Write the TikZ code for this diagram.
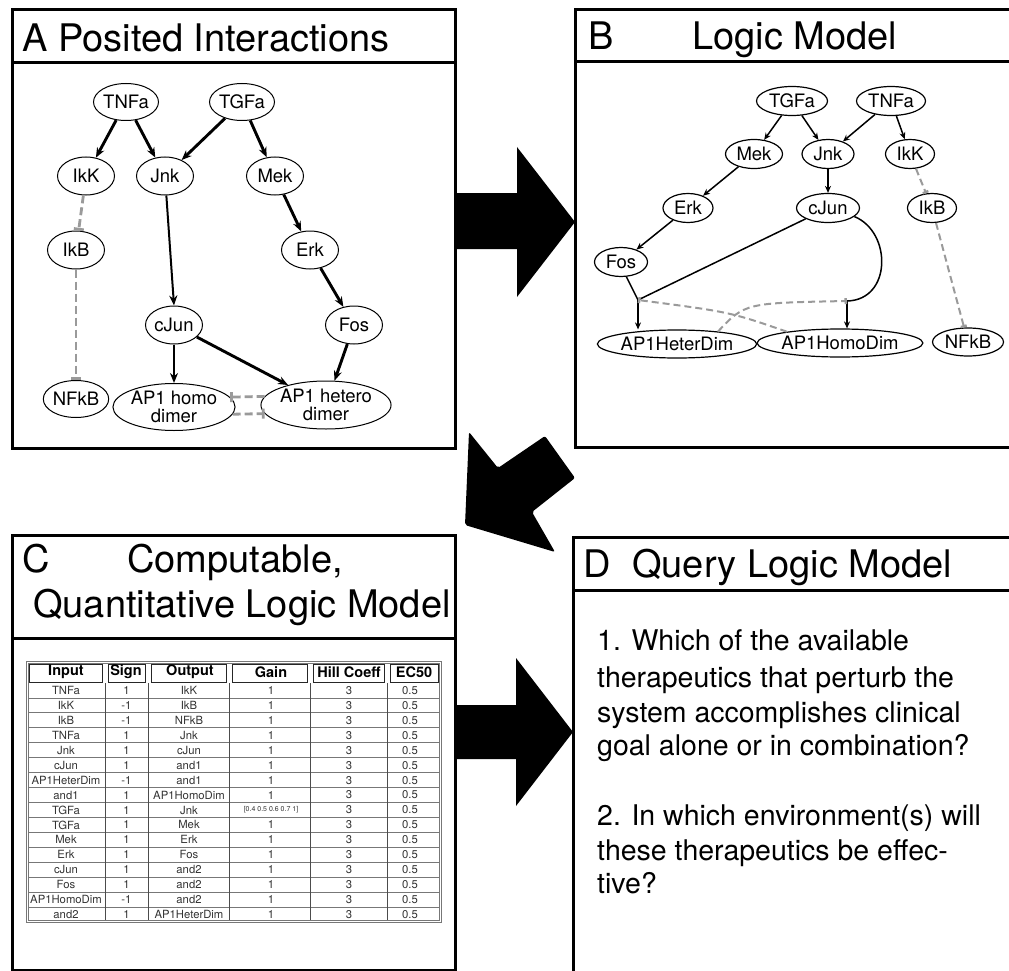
\documentclass[tikz,border=0pt]{standalone}
\usepackage{fontspec}
\setmainfont{TeX Gyre Heros}
\usetikzlibrary{shapes.geometric,arrows.meta,calc}
\definecolor{inhgray}{HTML}{9A9A9A}
\definecolor{cellgray}{HTML}{333333}
\definecolor{gridgray}{HTML}{777777}
\newcommand{\gainvec}{{\fontsize{7}{8}\selectfont[0.4 0.5 0.6 0.7 1]}}
\begin{document}
\begin{tikzpicture}[x=1pt,y=-1pt,
  panel/.style={line width=3pt},
  ttl/.style={anchor=base west, inner sep=0, font=\fontsize{38}{40}\selectfont},
  dtext/.style={anchor=base west, inner sep=0, font=\fontsize{28.5}{34}\selectfont},
  anode/.style={ellipse, draw, line width=1pt, inner sep=0, align=center,
    font=\fontsize{18.5}{18}\selectfont, minimum width=57pt, minimum height=38pt},
  bnode/.style={ellipse, draw, line width=1.2pt, inner sep=0,
    font=\fontsize{18.5}{16}\selectfont, minimum height=29pt},
  act/.style={line width=2.9pt, -{Stealth[length=10pt,width=8pt]}},
  inh/.style={draw=inhgray, line width=2.8pt, dash pattern=on 8pt off 4pt,
    -{Bar[width=10pt,line width=2.8pt]}},
  bact/.style={line width=1.5pt, -{Stealth[length=7pt,width=6pt]}},
  bline/.style={line width=1.5pt},
  binh/.style={draw=inhgray, line width=2pt, dash pattern=on 7pt off 4pt,
    -{Bar[width=6pt,line width=2.5pt]}},
  hdr/.style={inner sep=0, font=\bfseries\fontsize{14.5}{16}\selectfont},
  cell/.style={inner sep=0, text=cellgray, font=\fontsize{11.3}{12}\selectfont}
]
\useasboundingbox (0,0) rectangle (1009,971);
\clip (0,0) rectangle (1009,971);

% ---------- panels ----------
\draw[panel] (12,10) rectangle (455,448);
\draw[panel] (12,63) -- (455,63);
\draw[panel] (575,10) rectangle (1020,447);
\draw[panel] (575,62) -- (1020,62);
\draw[panel] (12,535) rectangle (455,970);
\draw[panel] (12,638) -- (455,638);
\draw[panel] (573,537) rectangle (1020,990);
\draw[panel] (573,590) -- (1020,590);

% ---------- titles ----------
\node[ttl] (tA) at (22,52) {A Posited Interactions};
\node[ttl] (tB) at (588,50) {B};
\node[ttl] (tB2) at (692,50) {Logic Model};
\node[ttl] (tC) at (22,572) {C};
\node[ttl] (tC2) at (127,572) {Computable,};
\node[ttl] (tC3) at (33,617) {Quantitative Logic Model};
\node[ttl] (tD) at (583,577) {D};
\node[ttl] (tD2) at (632,577) {Query Logic Model};

% ---------- big arrows ----------
\fill (455,193) -- (517,193) -- (517,147) -- (575,222) -- (517,297) -- (517,249) -- (455,249) -- cycle;
\fill (455,705) -- (516,705) -- (516,658) -- (573,732) -- (516,806) -- (516,759) -- (455,759) -- cycle;
\fill[rounded corners=2pt] (469,432) -- (498,468) -- (545,436) -- (575,478) -- (532,512) -- (555,552) -- (465,525) -- cycle;

% ---------- panel A ----------
\node[anode, minimum width=65pt, minimum height=37pt] (aTNFa) at (126,102) {TNFa};
\node[anode, minimum width=65pt, minimum height=37pt] (aTGFa) at (242,102) {TGFa};
\node[anode] (aIkK) at (86,176) {IkK};
\node[anode] (aJnk) at (165,176) {Jnk};
\node[anode] (aMek) at (275,176) {Mek};
\node[anode] (aIkB) at (76,250) {IkB};
\node[anode] (aErk) at (310,250) {Erk};
\node[anode] (acJun) at (174,325) {cJun};
\node[anode] (aFos) at (354,325) {Fos};
\node[anode, minimum width=63pt, minimum height=37pt] (aNFkB) at (76,399) {NFkB};
\node[anode, minimum width=102pt, minimum height=47pt] (ahomo) at (174,407) {AP1 homo\\dimer};
\node[anode, minimum width=107pt, minimum height=48pt] (ahet) at (326,405) {AP1 hetero\\dimer};

\draw[act] (aTNFa) -- (aIkK);
\draw[act] (aTNFa) -- (aJnk);
\draw[act] (aTGFa) -- (aJnk);
\draw[act] (aTGFa) -- (aMek);
\draw[act] (aMek) -- (aErk);
\draw[act] (aErk) -- (aFos);
\draw[act, line width=2pt] (aJnk) -- (acJun.north);
\draw[act] (acJun) -- (ahomo);
\draw[act] (acJun) -- (ahet);
\draw[act] (aFos) -- (ahet);
\draw[inh] (aIkK) -- (aIkB);
\draw[inh] (aIkB) -- (aNFkB);
\draw[inh] (ahet.172) -- (ahomo.10);
\draw[inh] (ahomo.-7) -- (ahet.188);

% ---------- panel B ----------
\node[bnode, minimum width=71pt] (bTGFa) at (792,101) {TGFa};
\node[bnode, minimum width=69pt] (bTNFa) at (891,101) {TNFa};
\node[bnode, minimum width=57pt] (bMek) at (754,154) {Mek};
\node[bnode, minimum width=52pt] (bJnk) at (828,154) {Jnk};
\node[bnode, minimum width=49pt] (bIkK) at (910,154) {IkK};
\node[bnode, minimum width=50pt] (bErk) at (688,208) {Erk};
\node[bnode, minimum width=63pt] (bcJun) at (828,208) {cJun};
\node[bnode, minimum width=49pt] (bIkB) at (932,208) {IkB};
\node[bnode, minimum width=53pt] (bFos) at (621,262) {Fos};
\node[bnode, minimum width=150pt, minimum height=28pt] (bhet) at (677,344) {AP1HeterDim};
\node[bnode, minimum width=153pt, minimum height=28pt] (bhomo) at (840,343) {AP1HomoDim};
\node[bnode, minimum width=71pt, minimum height=28pt] (bNFkB) at (968,342) {NFkB};
\coordinate (and2) at (638,300);
\coordinate (and1) at (847,301);

\draw[bact] (bTGFa) -- (bMek);
\draw[bact] (bTGFa) -- (bJnk);
\draw[bact] (bTNFa) -- (bJnk);
\draw[bact] (bTNFa) -- (bIkK);
\draw[bact] (bMek) -- (bErk);
\draw[bact] (bErk) -- (bFos);
\draw[bact] (bJnk) -- (bcJun);
\draw[binh] (bIkK) -- (bIkB);
\draw[binh] (bIkB) -- (bNFkB);
\draw[bline] (bFos.-70) .. controls (633,288) .. (and2);
\draw[bline] (bcJun) -- (and2);
\draw[bline] (bcJun.-18) .. controls (892,232) and (892,300) .. (and1);
\draw[bact] (and2) -- (and2 |- bhet.north);
\draw[bact] (and1) -- (and1 |- bhomo.north);
\draw[binh] (bhomo.168) .. controls (730,312) .. (and2);
\draw[binh] (bhet.17) .. controls (745,303) .. (and1);

% ---------- panel C : table ----------
\def\tl{26}\def\tr{441}\def\tt{661}\def\th{683}\def\tb{922}
\draw[gridgray, line width=1pt] (\tl,\tt) rectangle (\tr,\tb);
\draw[gridgray, line width=0.8pt] (\tl+2,\tt+2) rectangle (\tr-2,\tb-2);
\foreach \k in {1,...,15} {
  \draw[gridgray, line width=0.8pt] (\tl+2,{\th+14.94*\k}) -- (\tr-2,{\th+14.94*\k});
}
\foreach \xa/\xb in {26/105,105/148,148/229,229/310,310/387,387/441} {
  \draw[black!85, line width=1pt] (\xa+3,\tt+3) rectangle (\xb-3,\th-1);
}
\foreach \xv in {105,148,229,310,387} {
  \draw[black!70, line width=0.9pt] (\xv,\th) -- (\xv,\tb-2);
}
\node[hdr] (hIn) at (66,672) {Input};
\node[hdr] (hSg) at (126,672) {Sign};
\node[hdr] (hOut) at (190,672) {Output};
\node[hdr] (hGain) at (271,672) {Gain};
\node[hdr] (hHill) at (349,672) {Hill Coeff};
\node[hdr] (hEC) at (414,672) {EC50};
\foreach \a/\s/\o/\g [count=\i] in {
  TNFa/1/IkK/1, IkK/-1/IkB/1, IkB/-1/NFkB/1, TNFa/1/Jnk/1, Jnk/1/cJun/1,
  cJun/1/and1/1, AP1HeterDim/-1/and1/1, and1/1/AP1HomoDim/1, TGFa/1/Jnk/\gainvec,
  TGFa/1/Mek/1, Mek/1/Erk/1, Erk/1/Fos/1, cJun/1/and2/1, Fos/1/and2/1,
  AP1HomoDim/-1/and2/1, and2/1/AP1HeterDim/1} {
  \pgfmathsetmacro{\yy}{\th+14.94*(\i-0.5)}
  \node[cell] (ci\i) at (66,\yy) {\a};
  \node[cell] (cs\i) at (126.5,\yy) {\s};
  \node[cell] (co\i) at (189,\yy) {\o};
  \node[cell] (cg\i) at (271,\yy) {\g};
  \node[cell] (ch\i) at (349,\yy) {3};
  \node[cell] (ce\i) at (410,\yy) {0.5};
}

% ---------- panel D ----------
\foreach \t/\yy [count=\k] in {1. Which of the available/650, therapeutics that perturb the/687,
  system accomplishes clinical/722, goal alone or in combination?/755,
  2. In which environment(s) will/825, these therapeutics be effec-/860, tive?/893} {
  \node[dtext] (d\k) at (597,\yy) {\t};
}
\end{tikzpicture}
\end{document}
